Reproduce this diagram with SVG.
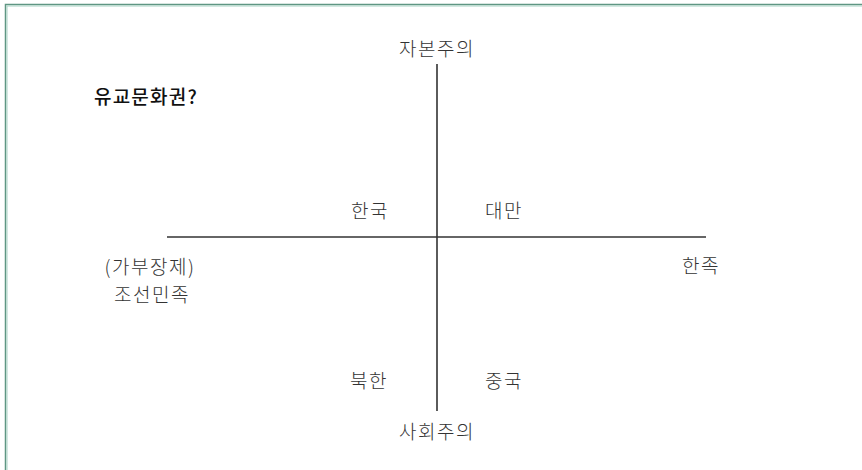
<svg xmlns="http://www.w3.org/2000/svg" width="862" height="470" viewBox="0 0 862 470">
<style>
.t{font-family:"Noto Sans CJK KR","Noto Sans",sans-serif;font-size:19px;fill:#333;font-weight:300;letter-spacing:1.5px}
.b{font-family:"Noto Sans CJK KR","Noto Sans",sans-serif;font-size:19px;fill:#111;font-weight:500;letter-spacing:1.2px}
.ax{stroke:#333;stroke-width:1.6;fill:none}
</style>
<rect width="862" height="470" fill="#fff"/>
<g id="frame">
<path d="M5.5 470 V4.5 H862" fill="none" stroke="#5f9683" stroke-width="1.5"/>
<path d="M7 470 V6 H862" fill="none" stroke="#a8d2c4" stroke-width="1"/>
</g>
<g id="connectors">
<line class="ax" x1="167" y1="237" x2="706" y2="237"/>
<line class="ax" x1="437" y1="64" x2="437" y2="411"/>
</g>
<g id="title"><text class="b" x="94" y="104">유교문화권?</text></g>
<g id="capitalism"><text class="t" x="437" y="56" text-anchor="middle">자본주의</text></g>
<g id="socialism"><text class="t" x="437" y="439" text-anchor="middle">사회주의</text></g>
<g id="korea"><text class="t" x="370" y="218" text-anchor="middle">한국</text></g>
<g id="taiwan"><text class="t" x="504" y="218" text-anchor="middle">대만</text></g>
<g id="nk"><text class="t" x="369" y="388" text-anchor="middle">북한</text></g>
<g id="china"><text class="t" x="504" y="388" text-anchor="middle">중국</text></g>
<g id="han"><text class="t" x="701" y="273" text-anchor="middle">한족</text></g>
<g id="joseon"><text class="t" x="150" y="274" text-anchor="middle">(가부장제)</text><text class="t" x="152" y="302" text-anchor="middle">조선민족</text></g>
</svg>
